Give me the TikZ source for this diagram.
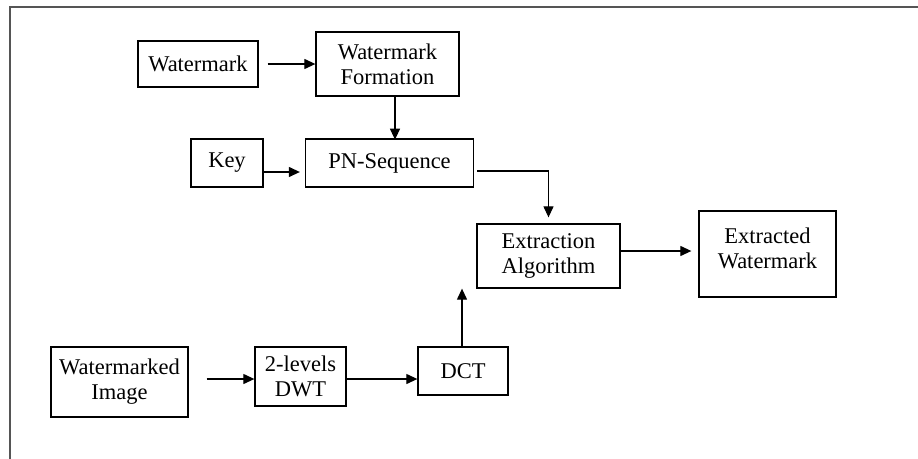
\documentclass[tikz,border=0pt]{standalone}
\usepackage{fontspec}
\setmainfont{Liberation Serif}
\usepackage{tikz}
\usetikzlibrary{arrows.meta,calc}
\definecolor{framecolor}{RGB}{85,85,85}

\begin{document}
\begin{tikzpicture}[
  x=1pt, y=-1pt,
  block/.style={rectangle, draw, line width=1.3pt, inner sep=0pt, align=center,
    font=\fontsize{22.5}{25}\selectfont},
  arrow/.style={-{Triangle[length=11pt,width=10pt]}, line width=1.2pt},
  frame/.style={draw=framecolor, line width=2pt}
]
  \useasboundingbox (0,0) rectangle (918,458);
  % Frame
  \draw[frame] (10,460) -- (10,7) -- (920,7);

  % Blocks
  \node[block, minimum width=120, minimum height=46] (wm) at (198,64) {Watermark};
  \node[block, minimum width=143, minimum height=64] (wmform) at (387.5,64) {Watermark\\Formation};
  \node[block, minimum width=72, minimum height=48] (key) at (227,163) {Key};
  \node[block, minimum width=168, minimum height=48] (pnseq) at (389.5,163) {PN-Sequence};
  \node[block, minimum width=143, minimum height=64] (extract) at (548.5,256) {Extraction\\Algorithm};
  \node[block, minimum width=137, minimum height=86, text depth=12pt] (extracted) at (767.5,254) {Extracted\\Watermark};
  \node[block, minimum width=137, minimum height=70] (wimage) at (119.5,382) {Watermarked\\Image};
  \node[block, minimum width=91, minimum height=59] (dwt) at (300.5,376.5) {2-levels\\DWT};
  \node[block, minimum width=90, minimum height=48] (dct) at (463,371) {DCT};

  % Edges
  \draw[arrow, shorten <=9pt] (wm) -- (wmform);
  \draw[arrow] ([xshift=7.5pt]wmform.south) -- ++(0,43);
  \draw[arrow, shorten >=5pt] ([yshift=-9pt]key.east) -- ([yshift=-9pt]key.east -| pnseq.west);
  \draw[arrow, shorten <=3pt, shorten >=6pt] ([yshift=-8pt]pnseq.east) -| (extract.north);
  \draw[arrow, shorten >=7pt] ([yshift=5pt]extract.east) -- ([yshift=5pt]extract.east -| extracted.west);
  \draw[arrow, shorten <=18pt] ([yshift=3pt]wimage.east) -- ([yshift=3pt]wimage.east -| dwt.west);
  \draw[arrow] ([yshift=-2.5pt]dwt.east) -- ([yshift=-2.5pt]dwt.east -| dct.west);
  \draw[arrow] ([xshift=-1pt]dct.north) -- ([xshift=-1pt]dct.north |- extract.south);

\end{tikzpicture}
\end{document}
